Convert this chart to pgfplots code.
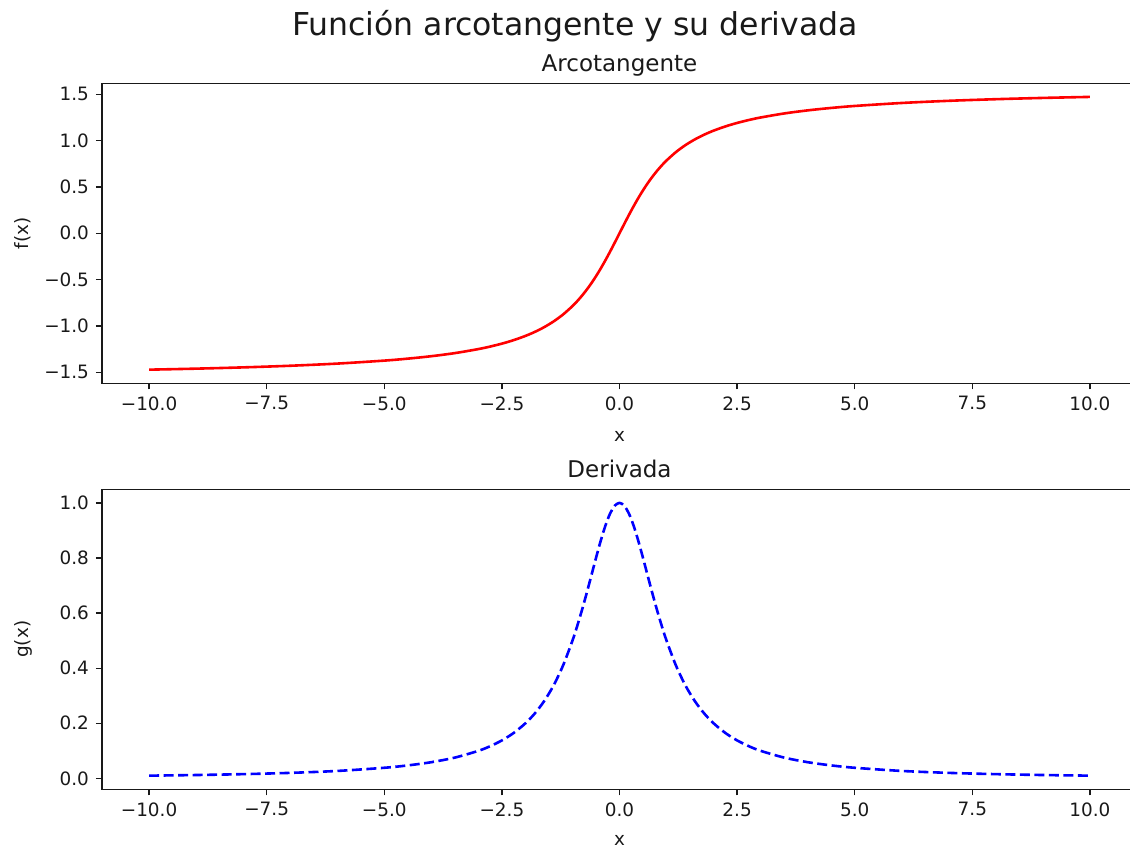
\documentclass[border=0pt]{standalone}
\usepackage{fontspec}
\setmainfont{DejaVu Sans}
\usepackage{pgfplots}
\pgfplotsset{compat=1.18}
\usepackage{pgfplotstable}

\pgfplotstableread{
x f g
-10 -1.4711 0.0099
-9 -1.4601 0.0122
-8 -1.4464 0.0154
-7 -1.4289 0.0200
-6 -1.4056 0.0270
-5 -1.3734 0.0385
-4.5 -1.3521 0.0471
-4 -1.3258 0.0588
-3.5 -1.2925 0.0755
-3 -1.2490 0.1000
-2.75 -1.2220 0.1168
-2.5 -1.1903 0.1379
-2.25 -1.1526 0.1649
-2 -1.1071 0.2000
-1.8 -1.0637 0.2358
-1.6 -1.0122 0.2809
-1.4 -0.9505 0.3378
-1.2 -0.8761 0.4098
-1 -0.7854 0.5000
-0.9 -0.7328 0.5525
-0.8 -0.6747 0.6098
-0.7 -0.6107 0.6711
-0.6 -0.5404 0.7353
-0.5 -0.4636 0.8000
-0.4 -0.3805 0.8621
-0.3 -0.2915 0.9174
-0.2 -0.1974 0.9615
-0.1 -0.0997 0.9901
0 0 1
0.1 0.0997 0.9901
0.2 0.1974 0.9615
0.3 0.2915 0.9174
0.4 0.3805 0.8621
0.5 0.4636 0.8000
0.6 0.5404 0.7353
0.7 0.6107 0.6711
0.8 0.6747 0.6098
0.9 0.7328 0.5525
1 0.7854 0.5000
1.2 0.8761 0.4098
1.4 0.9505 0.3378
1.6 1.0122 0.2809
1.8 1.0637 0.2358
2 1.1071 0.2000
2.25 1.1526 0.1649
2.5 1.1903 0.1379
2.75 1.2220 0.1168
3 1.2490 0.1000
3.5 1.2925 0.0755
4 1.3258 0.0588
4.5 1.3521 0.0471
5 1.3734 0.0385
6 1.4056 0.0270
7 1.4289 0.0200
8 1.4464 0.0154
9 1.4601 0.0122
10 1.4711 0.0099
}\datatab

\pgfplotsset{
  myax/.style={
    width=517.5pt, height=150pt, scale only axis,
    xmin=-11, xmax=11,
    xtick={-10,-7.5,-5,-2.5,0,2.5,5,7.5,10},
    xticklabels={−10.0,−7.5,−5.0,−2.5,0.0,2.5,5.0,7.5,10.0},
    xtick pos=bottom, ytick pos=left,
    tick align=outside, major tick length=3pt,
    every tick/.style={line width=0.7pt, black!90},
    axis line style={line width=0.7pt, black!90},
    tick label style={font=\fontsize{9.2}{11}\selectfont, text=black!90},
    label style={font=\fontsize{9.2}{11}\selectfont, text=black!90},
    title style={font=\fontsize{11.5}{13}\selectfont, text=black!90, at={(0.5,1)}, anchor=base, yshift=-0.2pt},
    xlabel style={at={(axis description cs:0.5,0)}, anchor=base, yshift=-29.2pt},
    ylabel style={at={(axis description cs:-0.0712,0.5)}, anchor=base},
    xlabel={x},
  }
}

\begin{document}
\begin{tikzpicture}
\begin{scope}
\clip (-51pt,-29.85pt) rectangle (514pt,394.65pt);
\begin{axis}[myax, at={(0pt,203pt)}, anchor=south west,
  ymin=-1.618, ymax=1.618,
  ytick={-1.5,-1,-0.5,0,0.5,1,1.5},
  yticklabels={−1.5,−1.0,−0.5,0.0,0.5,1.0,1.5},
  title={Arcotangente}, ylabel={f(x)}]
\addplot[red, line width=1.3pt, smooth, tension=0.5] table[x=x, y=f] {\datatab};
\end{axis}
\begin{axis}[myax, at={(0pt,0pt)}, anchor=south west,
  ymin=-0.0396, ymax=1.0495,
  ytick={0,0.2,0.4,0.6,0.8,1},
  yticklabels={0.0,0.2,0.4,0.6,0.8,1.0},
  xlabel style={yshift=0.9pt},
  title={Derivada}, ylabel={g(x)}]
\addplot[blue, line width=1.3pt, smooth, tension=0.5, dash pattern=on 5pt off 2.25pt] table[x=x, y=g] {\datatab};
\end{axis}
\node[anchor=base, font=\fontsize{15.75}{18}\selectfont, text=black!90] at (236.5pt,376.9pt) {Función arcotangente y su derivada};
\end{scope}
\pgfresetboundingbox
\path (-51pt,-29.85pt) rectangle (514pt,394.65pt);
\end{tikzpicture}
\end{document}
